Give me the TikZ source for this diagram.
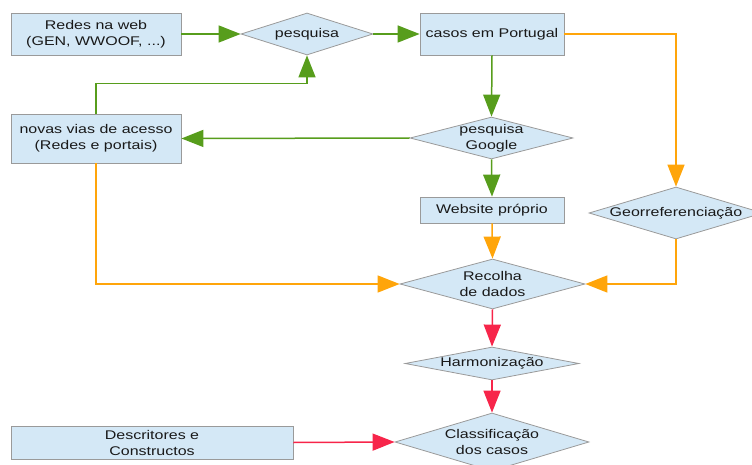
\documentclass[tikz,border=0pt]{standalone}
\usepackage{fontspec}
\setmainfont{Liberation Sans}[FakeStretch=1.27]
\usetikzlibrary{shapes.geometric,arrows.meta}
\definecolor{fillb}{HTML}{D4E8F6}
\definecolor{edgeg}{HTML}{9A9A9A}
\definecolor{grn}{HTML}{579D1C}
\definecolor{org}{HTML}{FFA50A}
\definecolor{rdd}{HTML}{F7254A}
\begin{document}
\begin{tikzpicture}[x=1pt,y=-1pt,
  txt/.style={font=\fontsize{12.6}{16}\selectfont, align=center, text=black!90},
  box/.style={txt, draw=edgeg, fill=fillb, line width=0.8pt, inner sep=0pt, rectangle},
  dia/.style={draw=edgeg, fill=fillb, line width=0.8pt, diamond, inner sep=0pt},
  lbl/.style={txt, inner sep=0pt},
  tip/.style={-{Triangle[length=22pt,width=17pt]}},
  garrow/.style={draw=grn, line width=1.5pt, tip},
  oarrow/.style={draw=org, line width=1.5pt, tip},
  rarrow/.style={draw=rdd, line width=1.5pt, tip}]
\useasboundingbox (0,0) rectangle (752,465);

% boxes
\node[box, minimum width=170pt, minimum height=42pt] (redes) at (96,34) {Redes na web\\(GEN, WWOOF, ...)};
\node[box, minimum width=144pt, minimum height=42pt] (casos) at (492,34) {casos em Portugal};
\node[box, minimum width=170pt, minimum height=49pt] (novas) at (96,138.5) {novas vias de acesso\\(Redes e portais)};
\node[box, minimum width=144pt, minimum height=26pt] (web) at (492,210) {Website próprio};
\node[box, minimum width=282pt, minimum height=33pt] (desc) at (152,442.5) {Descritores e\\Constructos};

% diamonds
\node[dia, minimum width=132pt, minimum height=42pt] (pes) at (307,34) {};
\node[lbl] at (pes) {pesquisa};
\node[dia, minimum width=163pt, minimum height=42pt] (goo) at (491.5,138) {};
\node[lbl] at (goo) {pesquisa\\Google};
\node[dia, minimum width=174pt, minimum height=52pt] (geo) at (676,213) {};
\node[lbl] at (geo) {Georreferenciação};
\node[dia, minimum width=185pt, minimum height=50pt] (rec) at (492.5,284) {};
\node[lbl] at (rec) {Recolha\\de dados};
\node[dia, minimum width=174pt, minimum height=33pt] (harm) at (492,363.5) {};
\node[lbl] at (harm) {Harmonização};
\node[dia, minimum width=194pt, minimum height=58pt] (cls) at (492,442) {};
\node[lbl] at (cls) {Classificação\\dos casos};

% green
\draw[garrow] (redes.east) -- (pes.west);
\draw[garrow] (pes.east) -- (casos.west);
\draw[garrow] (casos.south) -- (goo.north);
\draw[garrow] (goo.west) -- (novas.east);
\draw[garrow] (novas.north) -- ++(0,-30) -| (pes.south);
\draw[garrow] (goo.south) -- (web.north);
% orange
\draw[oarrow] (web.south) -- (rec.north);
\draw[oarrow] (novas.south) |- (rec.west);
\draw[oarrow] (casos.east) -| (geo.north);
\draw[oarrow] (geo.south) |- (rec.east);
% red
\draw[rarrow] (rec.south) -- (harm.north);
\draw[rarrow] (harm.south) -- (cls.north);
\draw[rarrow] (desc.east) -- (cls.west);
\end{tikzpicture}
\end{document}
